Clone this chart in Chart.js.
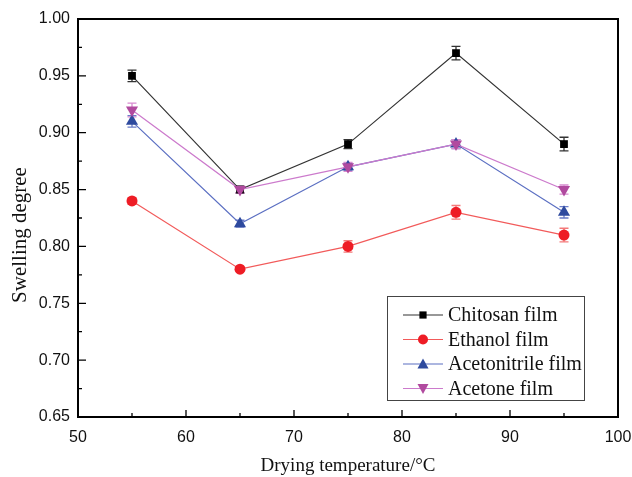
<!DOCTYPE html>
<html>
<head>
<meta charset="utf-8">
<script src="https://cdn.jsdelivr.net/npm/chart.js@4"></script>
<style>
html,body{margin:0;padding:0;background:#fff;}
#wrap{width:632px;height:477px;position:relative;}
</style>
</head>
<body>
<div id="wrap"><canvas id="c" width="632" height="477"></canvas></div>
<script>
const temperatures = [55, 65, 75, 85, 95];
const seriesNames = ["Chitosan film", "Ethanol film", "Acetonitrile film", "Acetone film"];
const chitosan = [0.95, 0.85, 0.89, 0.97, 0.89];
const chitosanErr = [0.005, 0.003, 0.004, 0.006, 0.006];
const ethanol = [0.84, 0.78, 0.80, 0.83, 0.81];
const ethanolErr = [0.003, 0.002, 0.005, 0.006, 0.006];
const acetonitrile = [0.91, 0.82, 0.87, 0.89, 0.83];
const acetonitrileErr = [0.005, 0.003, 0.003, 0.004, 0.005];
const acetone = [0.92, 0.85, 0.87, 0.89, 0.85];
const acetoneErr = [0.006, 0.003, 0.004, 0.004, 0.004];
const xTicks = [50, 60, 70, 80, 90, 100];
const yTicks = [0.65, 0.70, 0.75, 0.80, 0.85, 0.90, 0.95, 1.00];
const xTitle = 'Drying temperature/°C';
const yTitle = 'Swelling degree';

const styles = [
  {marker:'#000000', line:'#333333', err:'#333333', shape:'rect', r:5.5, rot:0},
  {marker:'#ee1c25', line:'#f25a5a', err:'#f47a7a', shape:'circle', r:5.5, rot:0},
  {marker:'#2e4a9e', line:'#5b6fc2', err:'#6a7cc8', shape:'triangle', r:7, rot:0},
  {marker:'#b14a9f', line:'#cc7acc', err:'#d88ad0', shape:'triangle', r:7, rot:180}
];
const values = [chitosan, ethanol, acetonitrile, acetone];
const errors = [chitosanErr, ethanolErr, acetonitrileErr, acetoneErr];

const datasets = seriesNames.map((name, i) => ({
  label: name,
  data: temperatures.map((t, j) => ({x: t, y: values[i][j]})),
  errs: errors[i],
  order: seriesNames.length - 1 - i,
  borderColor: styles[i].line,
  backgroundColor: styles[i].marker,
  pointBackgroundColor: styles[i].marker,
  pointBorderColor: styles[i].marker,
  pointStyle: styles[i].shape,
  pointRotation: styles[i].rot,
  pointRadius: styles[i].r,
  pointBorderWidth: 0,
  borderWidth: 1.2,
  tension: 0,
  errColor: styles[i].err
}));

const errorBars = {
  id: 'errorBars',
  beforeDatasetsDraw(chart) {
    const ctx = chart.ctx, xs = chart.scales.x, ys = chart.scales.y;
    ctx.save();
    chart.data.datasets.forEach(ds => {
      ctx.strokeStyle = ds.errColor;
      ctx.lineWidth = 1.3;
      ds.data.forEach((p, j) => {
        const e = ds.errs[j];
        const px = xs.getPixelForValue(p.x);
        const y1 = ys.getPixelForValue(p.y + e), y2 = ys.getPixelForValue(p.y - e);
        ctx.beginPath();
        ctx.moveTo(px, y1); ctx.lineTo(px, y2);
        ctx.moveTo(px - 4.5, y1); ctx.lineTo(px + 4.5, y1);
        ctx.moveTo(px - 4.5, y2); ctx.lineTo(px + 4.5, y2);
        ctx.stroke();
      });
    });
    ctx.restore();
  }
};

const frame = {
  id: 'frame',
  afterDraw(chart) {
    const ctx = chart.ctx, a = chart.chartArea, xs = chart.scales.x, ys = chart.scales.y;
    ctx.save();
    ctx.strokeStyle = '#000';
    ctx.lineWidth = 2;
    ctx.strokeRect(a.left, a.top, a.right - a.left, a.bottom - a.top);
    ctx.lineWidth = 1.3;
    ctx.beginPath();
    for (let k = 0; k < xTicks.length; k++) {
      const px = xs.getPixelForValue(xTicks[k]);
      ctx.moveTo(px, a.bottom); ctx.lineTo(px, a.bottom - 7);
      if (k < xTicks.length - 1) {
        const mx = xs.getPixelForValue((xTicks[k] + xTicks[k+1]) / 2);
        ctx.moveTo(mx, a.bottom); ctx.lineTo(mx, a.bottom - 4);
      }
    }
    for (let k = 0; k < yTicks.length; k++) {
      const py = ys.getPixelForValue(yTicks[k]);
      ctx.moveTo(a.left, py); ctx.lineTo(a.left + 8, py);
      if (k < yTicks.length - 1) {
        const my = ys.getPixelForValue((yTicks[k] + yTicks[k+1]) / 2);
        ctx.moveTo(a.left, my); ctx.lineTo(a.left + 4, my);
      }
    }
    ctx.stroke();

    // y axis title
    ctx.save();
    ctx.translate(20, 235);
    ctx.rotate(-Math.PI / 2);
    ctx.font = '21px "Liberation Serif", "Times New Roman", serif';
    ctx.fillStyle = '#111';
    ctx.textAlign = 'center';
    ctx.textBaseline = 'middle';
    ctx.fillText(yTitle, 0, 0);
    ctx.restore();

    // legend box
    const lx = 387, ly = 296, lw = 197, lh = 104;
    ctx.lineWidth = 1;
    ctx.strokeStyle = '#444';
    ctx.strokeRect(lx + 0.5, ly + 0.5, lw, lh);
    ctx.font = '20px "Liberation Serif", "Times New Roman", serif';
    ctx.textBaseline = 'middle';
    ctx.textAlign = 'left';
    chart.data.datasets.forEach((ds, i) => {
      const cy = ly + 19 + i * 24.5;
      ctx.strokeStyle = ds.borderColor;
      ctx.lineWidth = 1.2;
      ctx.beginPath(); ctx.moveTo(403, cy); ctx.lineTo(443, cy); ctx.stroke();
      ctx.fillStyle = ds.pointBackgroundColor;
      ctx.beginPath();
      const r = ds.pointStyle === 'rect' ? 4.5 : (ds.pointStyle === 'circle' ? 5 : 5.5);
      if (ds.pointStyle === 'rect') { ctx.rect(423 - r*0.8, cy - r*0.8, r*1.6, r*1.6); }
      else if (ds.pointStyle === 'circle') { ctx.arc(423, cy, r, 0, Math.PI*2); }
      else if (ds.pointRotation === 0) { ctx.moveTo(423, cy - r); ctx.lineTo(423 + r, cy + r*0.8); ctx.lineTo(423 - r, cy + r*0.8); ctx.closePath(); }
      else { ctx.moveTo(423, cy + r); ctx.lineTo(423 + r, cy - r*0.8); ctx.lineTo(423 - r, cy - r*0.8); ctx.closePath(); }
      ctx.fill();
      ctx.fillStyle = '#111';
      ctx.fillText(ds.label, 448, cy + 1);
    });
    ctx.restore();
  }
};

new Chart(document.getElementById('c'), {
  type: 'line',
  data: { datasets },
  options: {
    responsive: false,
    animation: false,
    layout: { padding: { left: 0, top: 19, right: 14, bottom: 0 } },
    plugins: { legend: { display: false }, tooltip: { enabled: false } },
    scales: {
      x: {
        type: 'linear', min: 50, max: 100,
        afterBuildTicks(s) { s.ticks = xTicks.map(v => ({value: v})); },
        afterFit(s) { s.height = 60; s.paddingLeft = 0; s.paddingRight = 0; },
        grid: { display: false, drawTicks: false },
        border: { display: false },
        ticks: { color: '#111', font: { family: '"Liberation Sans", Arial, sans-serif', size: 16 }, padding: 11,
                 callback: v => String(v), maxRotation: 0 },
        title: { display: true, text: xTitle, color: '#111',
                 font: { family: '"Liberation Serif", "Times New Roman", serif', size: 19, lineHeight: 1.2 },
                 padding: { top: 0, bottom: 0 } }
      },
      y: {
        type: 'linear', min: 0.65, max: 1.0,
        afterBuildTicks(s) { s.ticks = yTicks.map(v => ({value: v})); },
        afterFit(s) { s.width = 78; s.paddingTop = 0; s.paddingBottom = 0; },
        grid: { display: false, drawTicks: false },
        border: { display: false },
        ticks: { color: '#111', font: { family: '"Liberation Sans", Arial, sans-serif', size: 16 }, padding: 8,
                 callback: v => Number(v).toFixed(2) },
        title: { display: false }
      }
    }
  },
  plugins: [errorBars, frame]
});
</script>
</body>
</html>
